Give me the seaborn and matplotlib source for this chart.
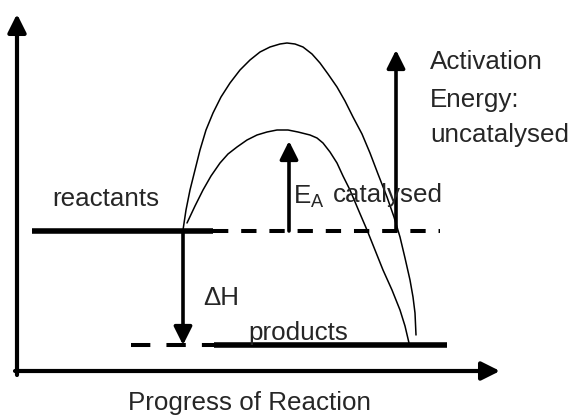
import numpy as np
import pandas as pd
import matplotlib
matplotlib.use("Agg")
import matplotlib.pyplot as plt
import seaborn as sns

# ── Curve points (x, y in picture units, y grows down) ──
uncat_x = [183, 186, 190, 195, 200, 206, 213, 221, 230, 240, 250, 260, 270, 280, 287,
           295, 303, 312, 320, 328, 337, 345, 353, 362, 370, 378, 387, 394, 400, 405,
           410, 413, 415, 416]
uncat_y = [230, 210, 190, 170, 150, 130, 113, 97, 83, 70, 60, 52, 47, 44, 43,
           44, 47, 54, 63, 74, 87, 101, 117, 134, 153, 174, 197, 217, 237, 258,
           280, 297, 313, 335]

cat_x = [187, 195, 203, 211, 220, 228, 237, 247, 257, 267, 277, 288, 298, 310,
         317, 323, 330, 337, 343, 350, 358, 367, 375, 383, 392, 400, 405, 409]
cat_y = [223, 206, 190, 176, 163, 154, 147, 140, 135, 132, 130, 130, 132, 135,
         138, 143, 152, 163, 176, 190, 209, 230, 250, 270, 290, 310, 326, 343]

# energy levels
reactant_level = 231
product_level = 345
react_solid = (32, 213)
react_dash = (213, 440)
prod_solid = (214, 447)
prod_dash = (131, 214)

# arrows: x position, start y, end y
dH_arrow = (183, reactant_level, product_level)
ea_cat_arrow = (289, reactant_level, 141)
ea_uncat_arrow = (396, reactant_level, 50)

sns.set_style("white")
plt.rcParams['font.family'] = ['Liberation Sans', 'DejaVu Sans']
plt.rcParams['mathtext.fontset'] = 'custom'
plt.rcParams['mathtext.rm'] = 'Liberation Sans'

fig = plt.figure(figsize=(5.73, 4.17), dpi=100)
ax = fig.add_axes([0, 0, 1, 1])

curves = pd.concat([
    pd.DataFrame({'x': uncat_x, 'y': uncat_y, 'path': 'uncatalysed'}),
    pd.DataFrame({'x': cat_x, 'y': cat_y, 'path': 'catalysed'}),
])
for name, grp in curves.groupby('path'):
    sns.lineplot(data=grp, x='x', y='y', sort=False, estimator=None,
                 color='black', lw=1.1, ax=ax)
ax.set_xlim(0, 573)
ax.set_ylim(417, 0)
ax.axis('off')

# levels
ax.plot(react_solid, [reactant_level] * 2, color='black', lw=4.0, solid_capstyle='butt')
ax.plot(react_dash, [reactant_level] * 2, color='black', lw=2.9, dashes=(3.8, 3.2))
ax.plot(prod_solid, [product_level] * 2, color='black', lw=4.0, solid_capstyle='butt')
ax.plot(prod_dash, [product_level] * 2, color='black', lw=2.9, dashes=(4.8, 4.0))

# axes arrows
head = '-|>,head_length=1.1,head_width=0.55'
ax.annotate('', xy=(17, 14), xytext=(17, 375),
            arrowprops=dict(arrowstyle=head, color='black', lw=3.0,
                            mutation_scale=10, shrinkA=0, shrinkB=0))
ax.annotate('', xy=(500, 371), xytext=(15, 371),
            arrowprops=dict(arrowstyle=head, color='black', lw=3.0,
                            mutation_scale=10, shrinkA=0, shrinkB=0))

for xa, y0, y1 in [dH_arrow, ea_cat_arrow, ea_uncat_arrow]:
    ax.annotate('', xy=(xa, y1), xytext=(xa, y0),
                arrowprops=dict(arrowstyle=head, color='black', lw=2.6,
                                mutation_scale=10, shrinkA=0, shrinkB=0))

fs = 18.7
ax.text(52, 199, 'reactants', fontsize=fs, va='center', ha='left')
ax.text(203, 298, '\u0394H', fontsize=fs, va='center', ha='left')
ax.text(248, 333, 'products', fontsize=fs, va='center', ha='left')
ax.text(293, 197, r'E$_{\mathrm{A}}$', fontsize=fs, va='center', ha='left')
ax.text(333, 195, 'catalysed', fontsize=fs, va='center', ha='left')
ax.text(430, 62, 'Activation', fontsize=fs, va='center', ha='left')
ax.text(430, 100, 'Energy:', fontsize=fs, va='center', ha='left')
ax.text(430, 135, 'uncatalysed', fontsize=fs, va='center', ha='left')
ax.text(250, 403, 'Progress of Reaction', fontsize=fs, va='center', ha='center')

fig.savefig('out.png', dpi=100)
